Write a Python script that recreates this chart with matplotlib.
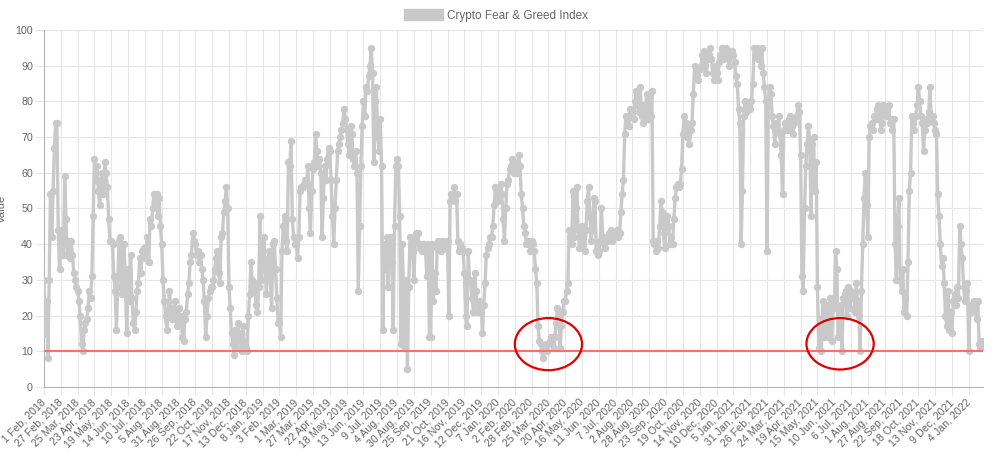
import numpy as np
import matplotlib
matplotlib.use('Agg')
import matplotlib.pyplot as plt
from matplotlib.patches import Ellipse, Patch

plt.rcParams['font.family'] = ['Liberation Sans', 'DejaVu Sans']

# x-axis category labels (one shown every 26 data points)
tick_labels = [
    '1 Feb, 2018', '27 Feb, 2018', '25 Mar, 2018', '23 Apr, 2018', '19 May, 2018',
    '14 Jun, 2018', '10 Jul, 2018', '5 Aug, 2018', '31 Aug, 2018', '26 Sep, 2018',
    '22 Oct, 2018', '17 Nov, 2018', '13 Dec, 2018', '8 Jan, 2019', '3 Feb, 2019',
    '1 Mar, 2019', '27 Mar, 2019', '22 Apr, 2019', '18 May, 2019', '13 Jun, 2019',
    '9 Jul, 2019', '4 Aug, 2019', '30 Aug, 2019', '25 Sep, 2019', '21 Oct, 2019',
    '16 Nov, 2019', '12 Dec, 2019', '7 Jan, 2020', '2 Feb, 2020', '28 Feb, 2020',
    '25 Mar, 2020', '20 Apr, 2020', '16 May, 2020', '11 Jun, 2020', '7 Jul, 2020',
    '2 Aug, 2020', '28 Aug, 2020', '23 Sep, 2020', '19 Oct, 2020', '14 Nov, 2020',
    '10 Dec, 2020', '5 Jan, 2021', '31 Jan, 2021', '26 Feb, 2021', '24 Mar, 2021',
    '19 Apr, 2021', '15 May, 2021', '10 Jun, 2021', '6 Jul, 2021', '1 Aug, 2021',
    '27 Aug, 2021', '22 Sep, 2021', '18 Oct, 2021', '13 Nov, 2021', '9 Dec, 2021',
    '4 Jan, 2022',
]
label_every = 26

# Fear & Greed values, one every 2nd day (13 per label interval)
fng_values = [
    30, 15, 24, 8, 30, 54, 42, 55, 67, 74, 74, 44, 33,
    44, 40, 37, 59, 47, 37, 41, 36, 41, 37, 32, 30, 28,
    27, 24, 20, 12, 10, 16, 18, 19, 22, 27, 25, 31, 48,
    64, 58, 62, 55, 51, 58, 60, 54, 63, 60, 56, 47, 41,
    41, 40, 31, 27, 16, 28, 41, 42, 26, 32, 40, 27, 15,
    33, 24, 37, 25, 18, 16, 21, 27, 29, 36, 32, 38, 39,
    36, 39, 42, 35, 47, 45, 50, 54, 52, 54, 48, 53, 45,
    40, 30, 24, 20, 16, 21, 27, 22, 19, 20, 24, 19, 17,
    22, 18, 20, 14, 13, 19, 21, 26, 29, 35, 37, 43, 41,
    40, 37, 38, 35, 37, 33, 30, 24, 14, 20, 25, 27, 28,
    28, 30, 33, 36, 38, 32, 29, 42, 43, 49, 52, 56, 50,
    28, 22, 15, 12, 9, 16, 11, 18, 13, 15, 10, 17, 12,
    11, 10, 20, 26, 35, 30, 27, 29, 23, 21, 28, 48, 30,
    36, 42, 33, 26, 35, 38, 30, 22, 40, 41, 33, 25, 18,
    18, 14, 38, 45, 48, 41, 38, 63, 62, 69, 47, 42, 40,
    40, 36, 42, 55, 56, 56, 57, 58, 57, 62, 50, 43, 55,
    61, 63, 71, 66, 62, 64, 60, 42, 53, 62, 58, 64, 67,
    66, 58, 48, 40, 50, 58, 66, 68, 70, 72, 74, 78, 75,
    72, 68, 65, 73, 71, 64, 62, 66, 60, 27, 45, 62, 73,
    80, 76, 84, 83, 87, 90, 95, 88, 63, 80, 84, 70, 66,
    75, 62, 16, 40, 33, 42, 28, 38, 42, 35, 16, 45, 62,
    64, 62, 48, 12, 40, 25, 11, 30, 5, 28, 42, 40, 38,
    30, 41, 43, 43, 40, 39, 38, 40, 39, 38, 31, 40, 14,
    14, 40, 24, 32, 27, 39, 41, 40, 38, 41, 40, 39, 41,
    41, 20, 52, 54, 53, 56, 52, 54, 41, 38, 40, 39, 38,
    32, 20, 17, 38, 30, 29, 25, 21, 32, 27, 21, 24, 21,
    23, 15, 23, 29, 37, 39, 40, 42, 42, 45, 51, 56, 52,
    52, 55, 57, 54, 47, 41, 50, 57, 58, 61, 62, 64, 60,
    63, 62, 60, 65, 62, 54, 50, 45, 43, 40, 41, 40, 38,
    41, 40, 38, 33, 29, 17, 13, 12, 10, 8, 11, 12, 10,
    12, 13, 14, 12, 11, 14, 18, 22, 20, 11, 17, 21, 24,
    24, 27, 29, 44, 42, 40, 55, 42, 50, 56, 44, 39, 41,
    45, 40, 38, 44, 52, 56, 48, 41, 44, 53, 52, 38, 37,
    38, 41, 50, 42, 40, 39, 41, 42, 43, 44, 41, 43, 42,
    43, 44, 42, 43, 49, 54, 58, 71, 76, 75, 73, 78, 76,
    77, 75, 80, 83, 79, 77, 84, 76, 74, 79, 77, 82, 75,
    80, 76, 83, 41, 40, 38, 41, 39, 45, 52, 49, 43, 39,
    47, 48, 45, 40, 42, 40, 47, 53, 56, 57, 56, 57, 61,
    71, 76, 74, 70, 73, 68, 72, 74, 82, 90, 88, 87, 86,
    89, 90, 93, 94, 90, 88, 92, 93, 95, 92, 88, 86, 90,
    88, 86, 91, 93, 95, 92, 93, 95, 94, 92, 90, 93, 94,
    93, 91, 87, 85, 78, 74, 40, 55, 76, 80, 77, 78, 79,
    78, 80, 85, 95, 93, 95, 92, 94, 90, 95, 88, 84, 80,
    38, 79, 84, 82, 76, 73, 68, 74, 72, 76, 71, 65, 54,
    72, 74, 73, 72, 75, 76, 73, 71, 74, 75, 76, 79, 77,
    65, 31, 27, 50, 62, 68, 73, 69, 48, 68, 70, 55, 63,
    28, 11, 19, 10, 24, 14, 22, 23, 14, 21, 25, 13, 23,
    22, 38, 33, 14, 21, 23, 10, 25, 26, 27, 20, 28, 22,
    27, 25, 26, 21, 29, 24, 20, 10, 27, 40, 53, 60, 51,
    42, 70, 73, 74, 72, 76, 75, 78, 79, 77, 72, 74, 79,
    77, 76, 78, 79, 74, 75, 72, 75, 40, 30, 45, 53, 30,
    27, 33, 21, 25, 20, 35, 55, 60, 76, 74, 72, 76, 79,
    84, 80, 76, 74, 66, 72, 75, 74, 77, 84, 75, 76, 74,
    72, 71, 54, 48, 40, 34, 36, 29, 20, 17, 27, 16, 21,
    15, 24, 26, 23, 28, 25, 45, 40, 36, 28, 24, 27, 29,
    10, 23, 21, 22, 24, 22, 19, 24, 12, 11, 13, 12,
]
step_days = 2
threshold = 10

# hand-drawn highlight circles: (centre index, centre value, width, height)
highlights = [(780, 12.0, 104, 14.6), (1231, 12.1, 104, 14.4)]

x = np.arange(len(fng_values)) * step_days
grey = '#c9c9c9'
txt = '#666666'

fig = plt.figure(figsize=(10, 4.53), dpi=100)
ax = fig.add_axes([0.044, 0.1457, 0.939, 0.7881])

ax.plot(x, fng_values, color=grey, lw=2.4, marker='o', ms=4.3,
        mec=grey, mfc=grey, zorder=3)
ax.hlines(threshold, x[0], x[-1], color='#ff6f69', lw=1.5, zorder=4)

for cx, cy, w, h in highlights:
    ax.add_patch(Ellipse((cx, cy), w, h, fill=False, ec='#e00000', lw=1.6,
                         zorder=5, clip_on=False))

ax.set_xlim(0, x[-1])
ax.set_ylim(0, 100)
ax.set_yticks(range(0, 101, 10))
ax.set_xticks(np.arange(len(tick_labels)) * label_every)
ax.set_xticklabels(tick_labels, rotation=45, ha='right', va='center',
                   rotation_mode='anchor')

ax.grid(True, color='#e6e6e6', lw=0.8)
ax.set_axisbelow(True)
for s in ['top', 'right']:
    ax.spines[s].set_visible(False)
for s in ['left', 'bottom']:
    ax.spines[s].set_color('#b5b5b5')
ax.tick_params(axis='both', colors='#e6e6e6', labelcolor=txt, labelsize=7.7,
               length=6, width=0.8)
ax.tick_params(axis='y', pad=2)
ax.tick_params(axis='x', pad=4)

ax.set_ylabel('Value', color=txt, fontsize=8.2)
ax.yaxis.set_label_coords(-0.039, 0.5)

fig.legend(handles=[Patch(facecolor=grey, edgecolor=grey)],
           labels=['Crypto Fear & Greed Index'], loc='center',
           bbox_to_anchor=(0.496, 0.966), frameon=False, fontsize=8.5,
           handlelength=3.3, handleheight=1.1, handletextpad=0.4,
           labelcolor=txt)

plt.savefig('out.png', dpi=100)
plt.close()
